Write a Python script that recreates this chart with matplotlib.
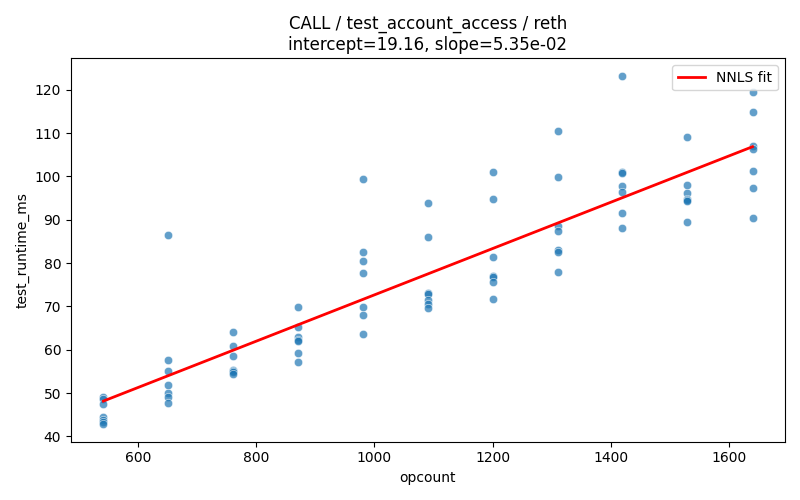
import numpy as np
import pandas as pd
import seaborn as sns
from matplotlib import pyplot as plt

# ----- DATA ------- #

opcount_levels = [542, 652, 761, 871, 981, 1090, 1200, 1310, 1419, 1529, 1639]

runtime_ms = [
    [49.2, 48.7, 47.4, 44.5, 43.9, 43.3, 42.8],
    [86.5, 57.7, 55.0, 51.9, 50.0, 49.2, 47.8],
    [64.1, 60.8, 58.6, 55.4, 55.1, 54.8, 54.5],
    [69.9, 65.3, 63.0, 62.2, 62.0, 59.3, 57.2],
    [99.4, 82.6, 80.5, 77.7, 69.9, 68.0, 63.7],
    [93.8, 86.0, 73.2, 72.9, 71.4, 70.6, 69.7],
    [101.0, 94.8, 81.4, 77.0, 76.7, 75.6, 71.6],
    [110.5, 99.9, 88.5, 87.3, 83.1, 82.6, 77.9],
    [123.2, 100.9, 100.7, 97.8, 96.3, 91.6, 88.2],
    [109.1, 98.0, 96.2, 94.8, 94.5, 94.4, 89.5],
    [119.4, 114.8, 107.1, 106.4, 101.3, 97.3, 90.4],
]

intercept = 19.16
slope = 5.35e-2

rows = []
for x, ys in zip(opcount_levels, runtime_ms):
    for y in ys:
        rows.append((x, y))
df = pd.DataFrame(rows, columns=['opcount', 'test_runtime_ms'])

# ----- PLOT ------- #

fig, ax = plt.subplots(figsize=(8, 5), dpi=100)
sns.scatterplot(data=df, x='opcount', y='test_runtime_ms', alpha=0.7, ax=ax)

x_fit = np.array([min(opcount_levels), max(opcount_levels)])
ax.plot(x_fit, intercept + slope * x_fit, color='red', linewidth=2, label='NNLS fit')

ax.set_title(f'CALL / test_account_access / reth\nintercept={intercept:.2f}, slope={slope:.2e}')
ax.legend(loc='upper right')
fig.tight_layout()
fig.savefig('out.png')
